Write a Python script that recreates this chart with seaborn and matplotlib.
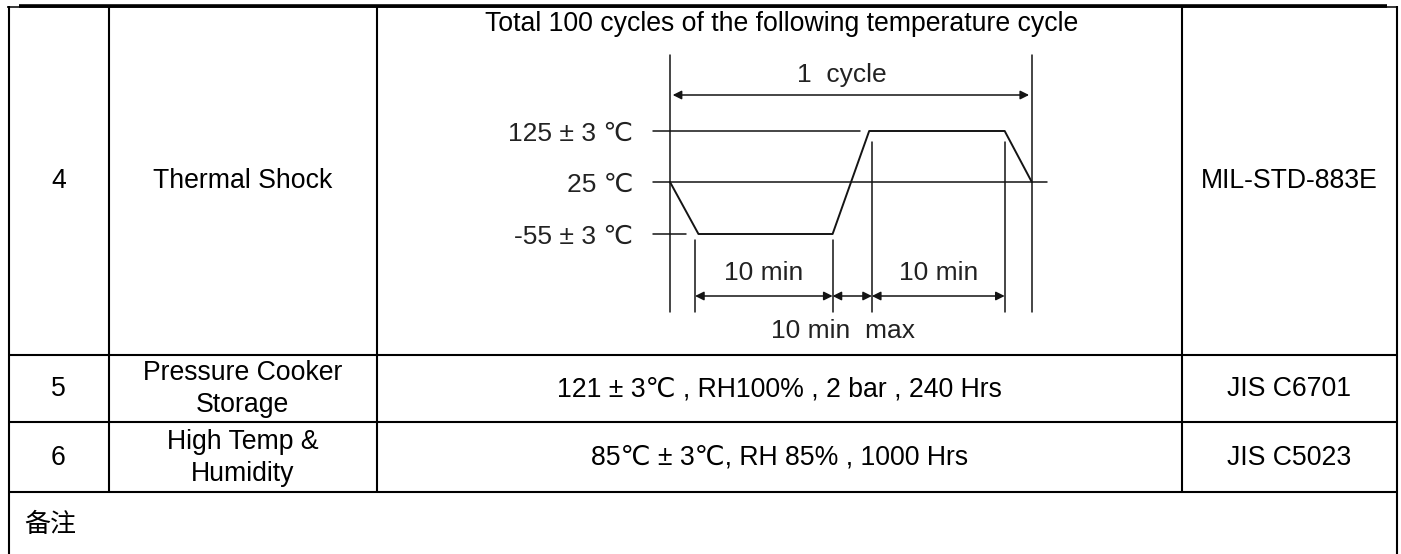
import numpy as np
import matplotlib
matplotlib.use("Agg")
import matplotlib.pyplot as plt
from matplotlib import transforms
import seaborn as sns

# ---------------- data ----------------
row_ids = ["4", "5", "6"]
test_items = ["Thermal Shock", "Pressure Cooker\nStorage", "High Temp &\nHumidity"]
conditions = ["Total 100 cycles of the following temperature cycle",
              "121 ± 3℃ , RH100% , 2 bar , 240 Hrs",
              "85℃ ± 3℃, RH 85% , 1000 Hrs"]
standards = ["MIL-STD-883E", "JIS C6701", "JIS C5023"]
remark_label = "备注"

# temperature cycle profile (minutes, °C)
time_min = [0.0, 2.1, 12.0, 14.7, 24.7, 26.7]
temp_c = [25, -55, -55, 125, 125, 25]
temp_levels = [125, 25, -55]
temp_labels = ["125 ± 3 ℃", "25 ℃", "-55 ± 3 ℃"]
dwell_marks = [1.85, 12.0, 14.9, 24.7]
dwell_labels = ["10 min", "10 min"]
transfer_label = "10 min  max"
cycle_label = "1  cycle"

# ---------------- style ----------------
sns.set_theme(style="white")
plt.rcParams["font.family"] = ["Liberation Sans", "DejaVu Sans", "Noto Sans CJK SC"]
plt.rcParams["text.color"] = "black"

W, H = 1401, 554
fig = plt.figure(figsize=(W / 100, H / 100), dpi=100)
fig.patch.set_facecolor("white")

# table layer in pixel coordinates
tab = fig.add_axes([0, 0, 1, 1])
tab.set_xlim(0, W)
tab.set_ylim(H, 0)
tab.axis("off")

col_edges = [8.5, 108.5, 377, 1182, 1396.5]
row_edges = [6, 355, 422, 492]
lw_tab = 1.5
k = "black"

# top border (thick + thin)
tab.plot([19, 1387], [5.5, 5.5], color=k, lw=2.6, solid_capstyle="butt")
tab.plot([7, 1397], [7.2, 7.2], color=k, lw=1.1, solid_capstyle="butt")
# outer verticals
for x in (col_edges[0], col_edges[-1]):
    tab.plot([x, x], [6, H], color=k, lw=lw_tab, solid_capstyle="butt")
# inner verticals
for x in col_edges[1:-1]:
    tab.plot([x, x], [7, row_edges[-1]], color=k, lw=lw_tab, solid_capstyle="butt")
# horizontal row lines
for y in row_edges[1:]:
    tab.plot([col_edges[0], col_edges[-1]], [y, y], color=k, lw=lw_tab, solid_capstyle="butt")

fs = 19.2
row_centers = [181, 389, 458]
cx = [(col_edges[i] + col_edges[i + 1]) / 2 for i in range(4)]
for i in range(3):
    yc = row_centers[i]
    tab.text(cx[0], yc, row_ids[i], ha="center", va="center", fontsize=fs)
    tab.text(cx[1], yc, test_items[i], ha="center", va="center", fontsize=fs,
             linespacing=1.28, multialignment="center")
    if i > 0:
        tab.text(cx[2], yc, conditions[i], ha="center", va="center", fontsize=fs)
    tab.text(cx[3], yc, standards[i], ha="center", va="center", fontsize=fs)
# title of the thermal shock cell
tab.text(cx[2] + 2, 24, conditions[0], ha="center", va="center", fontsize=fs)
tab.text(24, 525, remark_label, ha="left", va="center", fontsize=fs - 0.5,
         family=["Noto Sans CJK SC"])

# ---------------- temperature cycle diagram ----------------
px0, px_per_min = 670.0, 13.55   # time axis placement
y25 = 182.0                       # pixel row of the 25 °C level
box = (640, 40, 1070, 345)        # left, top, right, bottom in pixels

def fwd(t):
    t = np.asarray(t, dtype=float)
    return np.where(t < 25, (t - 25) * 52.0 / 80.0, (t - 25) * 51.0 / 100.0)

def inv(v):
    v = np.asarray(v, dtype=float)
    return np.where(v < 0, v * 80.0 / 52.0 + 25, v * 100.0 / 51.0 + 25)

dg = fig.add_axes([box[0] / W, 1 - box[3] / H, (box[2] - box[0]) / W, (box[3] - box[1]) / H])
dg.set_facecolor("none")
dg.set_yscale("function", functions=(fwd, inv))

lc = "#141414"
sns.lineplot(x=time_min, y=temp_c, ax=dg, color=lc, lw=1.4, sort=False,
             estimator=None)

def t_of(px):
    return (px - px0) / px_per_min

trans = transforms.blended_transform_factory(dg.transData, tab.transData)

# reference level lines
t_ref0 = t_of(653)
dg.plot([t_ref0, t_of(860)], [temp_levels[0]] * 2, color=lc, lw=1.1)
dg.plot([t_ref0, t_of(1047)], [temp_levels[1]] * 2, color=lc, lw=1.1)
dg.plot([t_ref0, t_of(686)], [temp_levels[2]] * 2, color=lc, lw=1.1)

# tall cycle boundaries
for t in (time_min[0], time_min[-1]):
    dg.plot([t, t], [55, 312], color=lc, lw=1.1, transform=trans, clip_on=False)
# dwell boundaries
for t, top in zip(dwell_marks, [240, 240, 142, 142]):
    dg.plot([t, t], [top, 312], color=lc, lw=1.1, transform=trans, clip_on=False)

ap = dict(arrowstyle="<|-|>", color=lc, lw=1.1, mutation_scale=13,
          shrinkA=0, shrinkB=0)
# 1 cycle arrow
dg.annotate("", xy=(time_min[-1] - 0.2, 95), xytext=(time_min[0] + 0.2, 95),
            xycoords=trans, textcoords=trans, arrowprops=ap)
# bottom arrows
for a, b in zip(dwell_marks[:-1], dwell_marks[1:]):
    dg.annotate("", xy=(b, 296), xytext=(a, 296), xycoords=trans,
                textcoords=trans, arrowprops=ap)

dfs = 19
tc = "#222222"
dg.text(t_of(842), 75, cycle_label, transform=trans, ha="center", va="center",
        fontsize=dfs, color=tc)
dg.text((dwell_marks[0] + dwell_marks[1]) / 2, 273, dwell_labels[0], transform=trans,
        ha="center", va="center", fontsize=dfs, color=tc)
dg.text((dwell_marks[2] + dwell_marks[3]) / 2, 273, dwell_labels[1], transform=trans,
        ha="center", va="center", fontsize=dfs, color=tc)
dg.text(t_of(843), 331, transfer_label, transform=trans, ha="center", va="center",
        fontsize=dfs, color=tc)

# axes: limits, temperature tick labels
dg.set_xlim(t_of(box[0]), t_of(box[2]))
dg.set_ylim(float(inv(y25 - box[3])), float(inv(y25 - box[1])))
dg.set_xticks([])
dg.set_yticks(temp_levels, labels=temp_labels)
dg.yaxis.set_minor_locator(matplotlib.ticker.NullLocator())
dg.tick_params(axis="y", length=0, pad=5, labelsize=dfs, labelcolor=tc)
dg.set_xlabel("")
dg.set_ylabel("")
for s in dg.spines.values():
    s.set_visible(False)
dg.grid(False)

fig.savefig("out.png", dpi=100, facecolor="white")
